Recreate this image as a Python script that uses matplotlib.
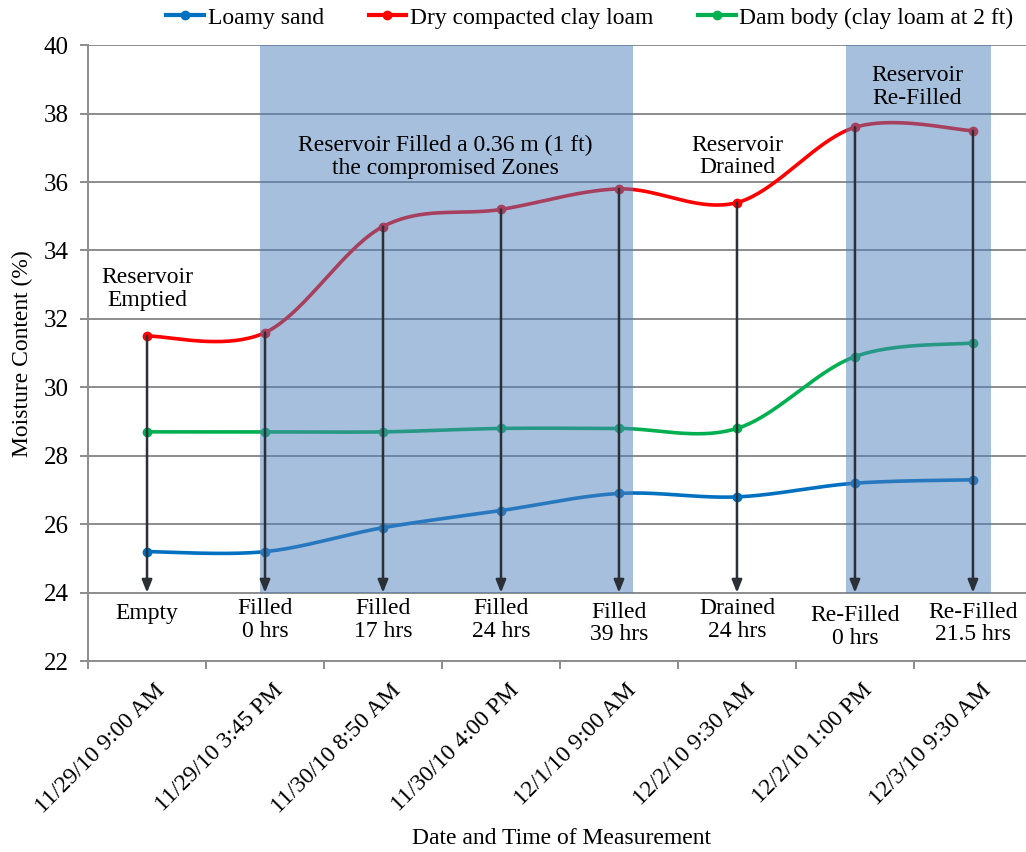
import numpy as np
import matplotlib
matplotlib.use("Agg")
import matplotlib.pyplot as plt
from matplotlib.lines import Line2D

# Measurement times (category axis)
dates = ["11/29/10 9:00 AM", "11/29/10 3:45 PM", "11/30/10 8:50 AM", "11/30/10 4:00 PM",
         "12/1/10 9:00 AM", "12/2/10 9:30 AM", "12/2/10 1:00 PM", "12/3/10 9:30 AM"]
stages = ["Empty", "Filled\n0 hrs", "Filled\n17 hrs", "Filled\n24 hrs", "Filled\n39 hrs",
          "Drained\n24 hrs", "Re-Filled\n0 hrs", "Re-Filled\n21.5 hrs"]

# Moisture content (%)
loamy_sand = [25.2, 25.2, 25.9, 26.4, 26.9, 26.8, 27.2, 27.3]
clay_loam = [31.5, 31.6, 34.7, 35.2, 35.8, 35.4, 37.6, 37.5]
dam_body = [28.7, 28.7, 28.7, 28.8, 28.8, 28.8, 30.9, 31.3]

series_names = ["Loamy sand", "Dry compacted clay loam", "Dam body (clay loam at 2 ft)"]
series_colors = ["#0070c0", "#ff0000", "#00b050"]

# Reservoir filled periods, in category units
filled_spans = [(0.96, 4.12), (5.92, 7.15)]

plt.rcParams["font.family"] = ["Liberation Serif", "DejaVu Serif"]

FS = 17


def smooth(xs, ys, n=40):
    """Catmull-Rom style Bezier smoothing through the points."""
    P = np.column_stack([np.asarray(xs, float), np.asarray(ys, float)])
    out = []
    for i in range(len(P) - 1):
        p0 = P[i - 1] if i > 0 else P[i]
        p1 = P[i]
        p2 = P[i + 1]
        p3 = P[i + 2] if i + 2 < len(P) else P[i + 1]
        c1 = p1 + (p2 - p0) / 6.0
        c2 = p2 - (p3 - p1) / 6.0
        t = np.linspace(0, 1, n)[:, None]
        seg = ((1 - t) ** 3) * p1 + 3 * ((1 - t) ** 2) * t * c1 + 3 * (1 - t) * t ** 2 * c2 + t ** 3 * p2
        out.append(seg if i == 0 else seg[1:])
    seg = np.vstack(out)
    return seg[:, 0], seg[:, 1]


fig = plt.figure(figsize=(10.26, 8.52), dpi=100)
ax = fig.add_axes([0.0858, 0.224, 0.92, 0.723])

x = np.arange(len(dates))
ax.set_xlim(-0.5, len(dates) - 0.5)
ax.set_ylim(22, 40)

# gridlines
ax.set_yticks(np.arange(22, 41, 2))
ax.yaxis.grid(True, color="#8c8c8c", linewidth=1.4, zorder=0)
ax.set_axisbelow(True)

for vals, col in zip([loamy_sand, clay_loam, dam_body], series_colors):
    sx, sy = smooth(x, vals)
    ax.plot(sx, sy, color=col, linewidth=2.6, zorder=3, solid_capstyle="round")
    ax.plot(x, vals, "o", color=col, markersize=6, zorder=3)

# shaded periods with water in the reservoir
for x0, x1 in filled_spans:
    ax.fill_between([x0, x1], 24, 40, color="#4f81bd", alpha=0.5, linewidth=0, zorder=5)

# arrows from the clay loam readings down to the stage labels
for xi, yi in zip(x, clay_loam):
    ax.annotate("", xy=(xi, 24.0), xytext=(xi, yi),
                arrowprops=dict(arrowstyle="-|>,head_length=0.75,head_width=0.3",
                                color="#2b2f36", linewidth=1.8, shrinkA=0, shrinkB=0),
                zorder=6)

# stage labels under each arrow
stage_y = [23.4, 23.2, 23.2, 23.2, 23.1, 23.2, 23.0, 23.1]
for xi, s, yv in zip(x, stages, stage_y):
    ax.text(xi, yv, s, ha="center", va="center", fontsize=FS, linespacing=1.1, zorder=7)

# event annotations
ax.text(0, 32.87, "Reservoir\nEmptied", ha="center", va="center", fontsize=FS, linespacing=1.1, zorder=7)
ax.text(2.53, 36.73, "Reservoir Filled a 0.36 m (1 ft)\nthe compromised Zones", ha="center", va="center",
        fontsize=FS, linespacing=1.1, zorder=7)
ax.text(5.0, 36.75, "Reservoir\nDrained", ha="center", va="center", fontsize=FS, linespacing=1.1, zorder=7)
ax.text(6.53, 38.77, "Reservoir\nRe-Filled", ha="center", va="center", fontsize=FS, linespacing=1.1, zorder=7)

# axes styling
for sp in ["top", "right"]:
    ax.spines[sp].set_visible(False)
for sp in ["left", "bottom"]:
    ax.spines[sp].set_color("#8c8c8c")
    ax.spines[sp].set_linewidth(1.4)
ax.tick_params(axis="y", labelsize=18, length=6, color="#8c8c8c", width=1.4, pad=8)

ax.set_xticks(np.arange(-0.5, len(dates), 1.0))
ax.set_xticklabels([])
ax.tick_params(axis="x", length=6, color="#8c8c8c", width=1.4)
for xi, d in zip(x, dates):
    ax.text(xi + 0.06, 21.45, d, rotation=45, ha="right", va="top", rotation_mode="anchor",
            fontsize=FS)

ax.set_ylabel("Moisture Content (%)", fontsize=FS)
ax.yaxis.set_label_coords(-0.058, 0.5)
fig.text(0.547, 0.016, "Date and Time of Measurement", ha="center", va="center", fontsize=FS)

handles = [Line2D([0], [0], color=c, linewidth=3, marker="o", markersize=6) for c in series_colors]
fig.legend(handles, series_names, loc="center", bbox_to_anchor=(0.575, 0.979), ncol=3,
           frameon=False, fontsize=FS, handlelength=1.6, handletextpad=0.15, columnspacing=1.9)

fig.savefig("out.png", dpi=100)
